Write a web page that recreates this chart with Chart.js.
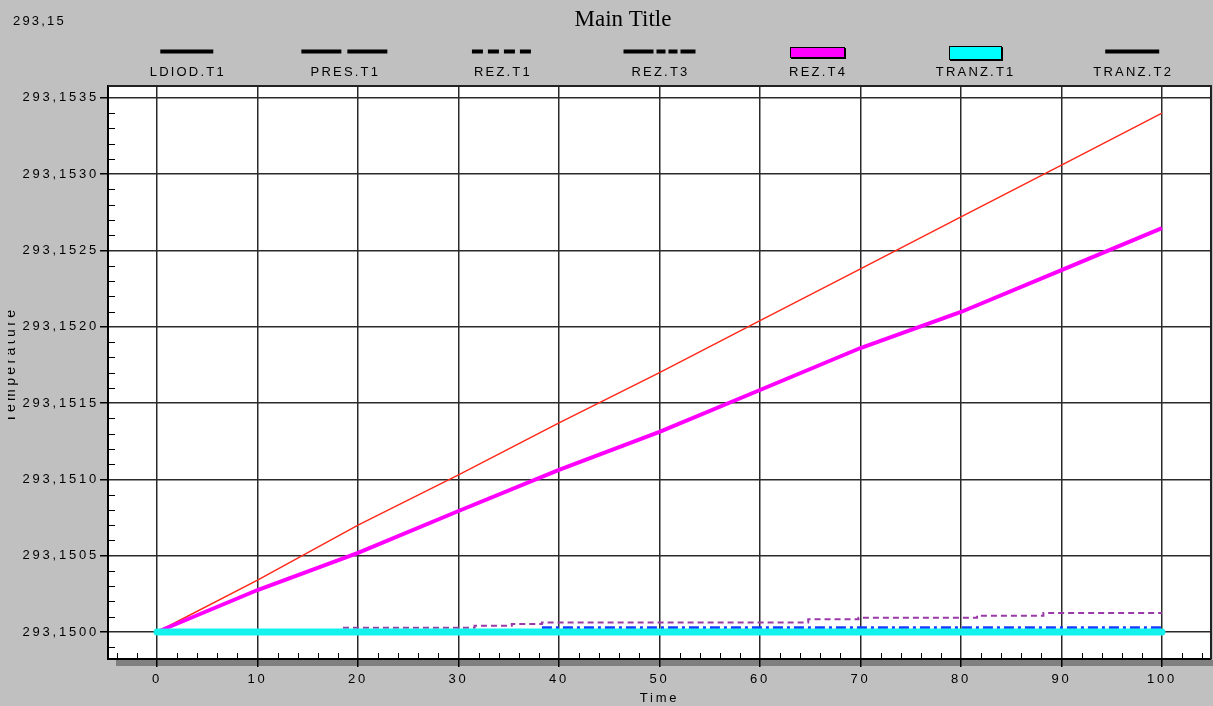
<!DOCTYPE html>
<html>
<head>
<meta charset="utf-8">
<title>Main Title</title>
<script src="https://cdn.jsdelivr.net/npm/chart.js@4/dist/chart.umd.min.js"></script>
<style>
  html, body { margin: 0; padding: 0; background: #c0c0c0; }
  canvas { display: block; }
</style>
</head>
<body>
<canvas id="chart" width="1213" height="706"></canvas>
<script>
// ---- series names (legend order) ----
const seriesNames = ['LDIOD.T1', 'PRES.T1', 'REZ.T1', 'REZ.T3', 'REZ.T4', 'TRANZ.T1', 'TRANZ.T2'];

// ---- sampled time grid (s) ----
const timeGrid = [0, 10, 20, 30, 40, 50, 60, 70, 80, 90, 100];

// ---- temperatures on the time grid ----
const ldiodT1 = [293.15000, 293.15034, 293.15070, 293.15103, 293.15137, 293.15170,
                 293.15204, 293.15238, 293.15272, 293.15306, 293.15340];
const rezT4   = [293.150000, 293.150275, 293.150518, 293.150793, 293.151062, 293.151311,
                 293.151586, 293.151861, 293.152097, 293.152372, 293.152647];
const presT1  = [293.15, 293.15, 293.15, 293.15, 293.15, 293.15, 293.15, 293.15, 293.15, 293.15, 293.15];
const tranzT1 = [293.15, 293.15, 293.15, 293.15, 293.15, 293.15, 293.15, 293.15, 293.15, 293.15, 293.15];
const tranzT2 = [293.15, 293.15, 293.15, 293.15, 293.15, 293.15, 293.15, 293.15, 293.15, 293.15, 293.15];

// ---- REZ.T1 changes value in small steps ----
const rezT1Time = [18.5, 31.6, 35.3, 38.3, 64.8, 69.8, 81.6, 88.2, 100];
const rezT1     = [293.150028, 293.150041, 293.150052, 293.150063, 293.150083,
                   293.150094, 293.150107, 293.150125, 293.150125];

// ---- REZ.T3 ----
const rezT3Time = [38.3, 100];
const rezT3     = [293.150028, 293.150028];

// ---- axis ticks ----
const xTickValues = [0, 10, 20, 30, 40, 50, 60, 70, 80, 90, 100];
const yTickValues = [293.1500, 293.1505, 293.1510, 293.1515, 293.1520, 293.1525, 293.1530, 293.1535];

// ---- texts ----
const cornerLabel = '293,15';
const mainTitle = 'Main Title';
const xTitle = 'Time';
const yTitle = 'Temperature';

const SANS = 'Arial, "Liberation Sans", sans-serif';
const SERIF = '"Times New Roman", "Liberation Serif", serif';
const SPACING = '2.2px';
const TICK_SPACING = '2.8px';

const pairs = (xs, ys) => xs.map((x, i) => ({ x: x, y: ys[i] }));

// legend key drawings (black line samples and filled boxes)
const legendKeys = [
  { kind: 'line', len: 53, dash: [] },
  { kind: 'line', len: 86, dash: [40, 6] },
  { kind: 'line', len: 60, dash: [11, 5] },
  { kind: 'line', len: 72, dash: [30, 3, 9, 3, 9, 3] },
  { kind: 'box', len: 54, h: 10, fill: '#ff00ff' },
  { kind: 'box', len: 52, h: 13, fill: '#00ffff' },
  { kind: 'line', len: 54, dash: [] }
];

const decorPlugin = {
  id: 'decor',
  beforeDraw(chart) {
    const { ctx, chartArea: a, width, height } = chart;
    ctx.save();
    ctx.fillStyle = '#c0c0c0';
    ctx.fillRect(0, 0, width, height);
    ctx.fillStyle = '#ffffff';
    ctx.fillRect(a.left, a.top, a.right - a.left, a.bottom - a.top);
    // drop shadow under the plot frame
    ctx.fillStyle = '#808080';
    ctx.fillRect(a.left + 8, a.bottom + 1, width - a.left - 8, 6);
    ctx.restore();
    ctx.letterSpacing = TICK_SPACING;
  },
  beforeDatasetsDraw(chart) {
    const { ctx, chartArea: a, scales } = chart;
    const xs = scales.x, ys = scales.y;
    ctx.save();
    ctx.strokeStyle = '#000';
    ctx.lineWidth = 1;
    ctx.beginPath();
    // minor ticks on the time axis, pointing into the plot
    const xStep = (xTickValues[1] - xTickValues[0]) / 5;
    for (let v = Math.ceil(xs.min / xStep) * xStep; v <= xs.max + 1e-9; v += xStep) {
      const r = Math.round(v / xStep);
      if (r % 5 === 0) continue;
      const px = Math.round(xs.getPixelForValue(v)) + 0.5;
      ctx.moveTo(px, a.bottom);
      ctx.lineTo(px, a.bottom - 6);
    }
    // minor ticks on the temperature axis
    const yStep = (yTickValues[1] - yTickValues[0]) / 5;
    const base = yTickValues[0];
    for (let k = Math.ceil((ys.min - base) / yStep); base + k * yStep <= ys.max; k++) {
      if (k % 5 === 0) continue;
      const py = Math.round(ys.getPixelForValue(base + k * yStep)) + 0.5;
      ctx.moveTo(a.left, py);
      ctx.lineTo(a.left + 7, py);
    }
    ctx.stroke();
    ctx.restore();
  },
  afterDatasetsDraw(chart) {
    const { ctx, chartArea: a } = chart;
    ctx.save();
    ctx.strokeStyle = '#222';
    ctx.lineWidth = 2;
    ctx.beginPath();
    ctx.moveTo(a.left, a.top);
    ctx.lineTo(a.right, a.top);
    ctx.lineTo(a.right, a.bottom);
    ctx.stroke();
    ctx.restore();
  },
  afterDraw(chart) {
    const { ctx, chartArea: a } = chart;
    ctx.save();
    ctx.letterSpacing = '0px';
    ctx.fillStyle = '#000';
    ctx.textBaseline = 'middle';
    // main title
    ctx.font = '23px ' + SERIF;
    ctx.textAlign = 'center';
    ctx.fillText(mainTitle, 623, 20);
    // corner value
    ctx.letterSpacing = SPACING;
    ctx.font = '13px ' + SANS;
    ctx.textAlign = 'left';
    ctx.fillText(cornerLabel, 13, 21);

    // legend: one slot per series across the plot width
    const slot = (a.right - a.left) / seriesNames.length;
    seriesNames.forEach((name, i) => {
      const cx = a.left + slot * (i + 0.5);
      const key = legendKeys[i];
      if (key.kind === 'line') {
        ctx.save();
        ctx.strokeStyle = '#000';
        ctx.lineWidth = 4;
        ctx.setLineDash(key.dash);
        ctx.beginPath();
        ctx.moveTo(cx - key.len / 2, 51.5);
        ctx.lineTo(cx + key.len / 2, 51.5);
        ctx.stroke();
        ctx.restore();
      } else {
        const x0 = Math.round(cx - key.len / 2), y0 = Math.round(52 - key.h / 2);
        ctx.fillStyle = key.fill;
        ctx.fillRect(x0, y0, key.len, key.h);
        ctx.strokeStyle = '#000';
        ctx.lineWidth = 1;
        ctx.strokeRect(x0 + 0.5, y0 + 0.5, key.len, key.h);
        ctx.lineWidth = 2;
        ctx.beginPath();
        ctx.moveTo(x0 + key.len + 1, y0 + 1);
        ctx.lineTo(x0 + key.len + 1, y0 + key.h + 1);
        ctx.lineTo(x0 + 1, y0 + key.h + 1);
        ctx.stroke();
      }
      ctx.fillStyle = '#000';
      ctx.textAlign = 'center';
      ctx.fillText(name, cx + 1, 72.5);
    });

    // temperature axis title, partly hidden by the window edge
    ctx.save();
    ctx.beginPath();
    ctx.rect(8, 0, 100, chart.height);
    ctx.clip();
    ctx.translate(15, (a.top + a.bottom) / 2 - 8);
    ctx.rotate(-Math.PI / 2);
    ctx.font = '14px ' + SANS;
    ctx.letterSpacing = '3.4px';
    ctx.textAlign = 'center';
    ctx.textBaseline = 'alphabetic';
    ctx.fillText(yTitle, 0, 0);
    ctx.restore();
    ctx.restore();
  }
};

const tickFont = { family: SANS, size: 13 };

new Chart(document.getElementById('chart'), {
  type: 'line',
  data: {
    datasets: [
      { label: seriesNames[5], data: pairs(timeGrid, tranzT1), borderColor: '#14f2ee', borderWidth: 7,
        borderCapStyle: 'round', order: 0 },
      { label: seriesNames[3], data: pairs(rezT3Time, rezT3), borderColor: '#1a3cff', borderWidth: 3,
        borderDash: [10, 4, 3, 4], order: 1 },
      { label: seriesNames[2], data: pairs(rezT1Time, rezT1), borderColor: '#9a3aa8', borderWidth: 2,
        borderDash: [6, 4], stepped: true, order: 2 },
      { label: seriesNames[4], data: pairs(timeGrid, rezT4), borderColor: '#ff00ff', borderWidth: 4, order: 3 },
      { label: seriesNames[0], data: pairs(timeGrid, ldiodT1), borderColor: '#ff2a1a', borderWidth: 1.5, order: 4 },
      { label: seriesNames[1], data: pairs(timeGrid, presT1), borderColor: '#000', borderWidth: 2,
        borderDash: [40, 6], order: 5 },
      { label: seriesNames[6], data: pairs(timeGrid, tranzT2), borderColor: '#000', borderWidth: 2, order: 6 }
    ]
  },
  options: {
    responsive: false,
    maintainAspectRatio: false,
    animation: false,
    events: [],
    layout: { padding: { top: 86, right: 2, left: 0, bottom: 0 } },
    elements: { point: { radius: 0 }, line: { tension: 0 } },
    plugins: { legend: { display: false }, title: { display: false }, tooltip: { enabled: false } },
    scales: {
      x: {
        type: 'linear',
        min: -4.88,
        max: 104.88,
        afterBuildTicks: s => { s.ticks = xTickValues.map(v => ({ value: v })); },
        afterFit: s => { s.height = 47; },
        ticks: { color: '#000', font: tickFont, padding: 5, maxRotation: 0, autoSkip: false,
                 callback: v => String(v) },
        grid: { color: '#2a2a2a', lineWidth: 1.5, tickLength: 8, tickColor: '#000', tickWidth: 1.5 },
        border: { display: true, color: '#000', width: 2 },
        title: { display: true, text: xTitle, color: '#000', font: tickFont, padding: { top: 0, bottom: 0 } }
      },
      y: {
        type: 'linear',
        min: 293.149823,
        max: 293.153578,
        afterBuildTicks: s => { s.ticks = yTickValues.map(v => ({ value: v })); },
        afterFit: s => { s.width = 108; },
        ticks: { color: '#000', font: tickFont, padding: 1,
                 callback: v => v.toFixed(4).replace('.', ',') },
        grid: { color: '#2a2a2a', lineWidth: 1.5, tickLength: 8, tickColor: '#000', tickWidth: 1.5 },
        border: { display: true, color: '#000', width: 2 }
      }
    }
  },
  plugins: [decorPlugin]
});
</script>
</body>
</html>
